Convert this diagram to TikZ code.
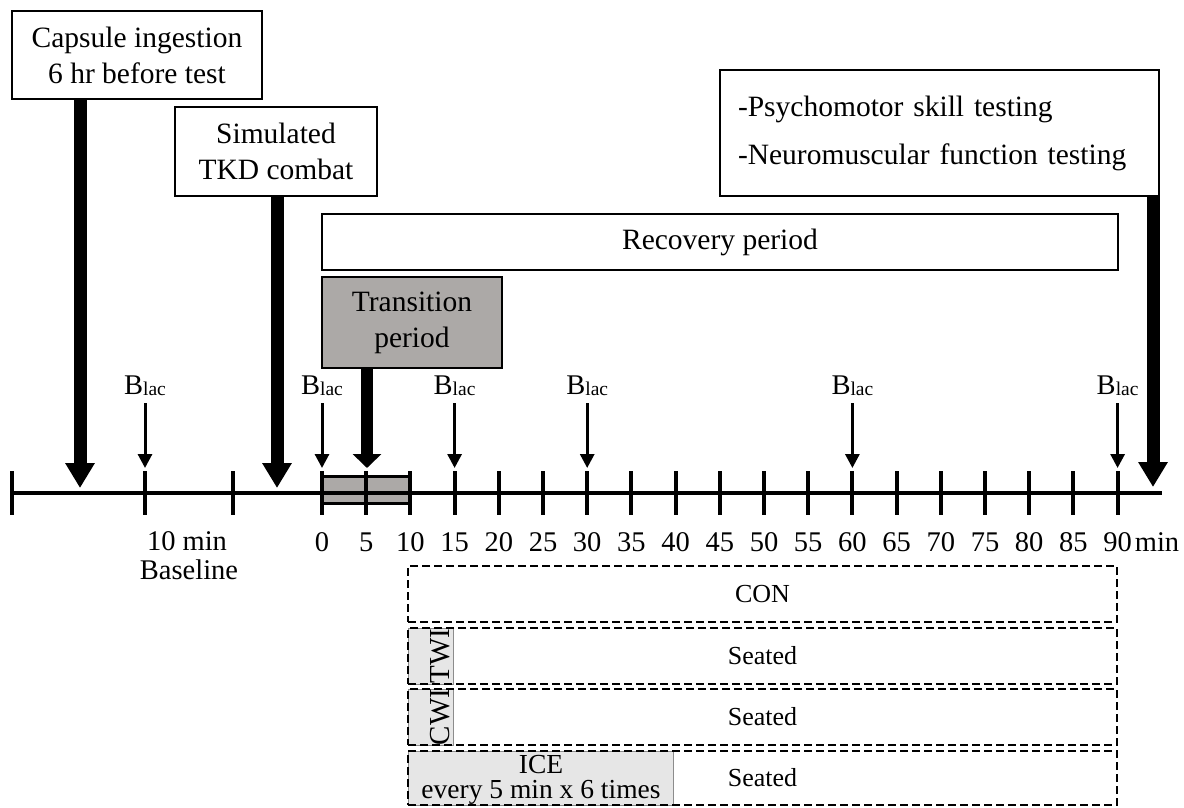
\documentclass[tikz,border=0pt]{standalone}
\usepackage{fontspec}
\setmainfont{Liberation Serif}
\usetikzlibrary{arrows.meta}
\definecolor{tgray}{RGB}{172,169,167}
\definecolor{lgray}{RGB}{230,230,230}
\newcommand{\fsz}[2]{\fontsize{#1}{#2}\selectfont}
\newcommand{\blac}{B{\fontsize{19.5}{19.5}\selectfont\raisebox{-1pt}{lac}}}
\begin{document}
\begin{tikzpicture}[x=1pt,y=-1pt,
 box/.style={draw, line width=2pt, inner sep=0pt, align=center, font=\fsz{29.5}{36}},
 dbox/.style={draw, line width=2.5pt, dash pattern=on 8pt off 4pt, inner sep=0pt, minimum width=709pt, minimum height=56pt, font=\fsz{26}{30}},
 strip/.style={draw=black!45, line width=1pt, fill=lgray, inner sep=0pt, anchor=north west},
 bigarrow/.style={line width=13pt, -{Triangle[length=25pt,width=28pt]}},
 flatarrow/.style={line width=12pt, -{Triangle[length=14pt,width=28pt]}},
 smallarrow/.style={line width=3pt, -{Triangle[length=14pt,width=14pt]}},
 lbl/.style={inner sep=0pt, anchor=base, font=\fsz{28.5}{34}},
 blacstyle/.style={inner sep=0pt, anchor=base, font=\fsz{28.5}{30}},
 tickline/.style={line width=4pt}
]
\useasboundingbox (0,0) rectangle (1184,807);

% top boxes
\node[box, minimum width=250pt, minimum height=88pt] (cap) at (137,55) {Capsule ingestion\\6 hr before test};
\node[box, minimum width=202pt, minimum height=89pt] (sim) at (276,151.5) {Simulated\\TKD combat};
\node[box, minimum width=796pt, minimum height=56pt] (rec) at (720,242) {Recovery period};
\node[box, fill=tgray, minimum width=180pt, minimum height=91pt] (tra) at (412,322.5) {Transition\\period};
\node[box, minimum width=439pt, minimum height=126pt, text width=403pt, align=left, font=\fsz{29.5}{48}] (psy) at (939.5,133) {-Psychomotor skill testing\\-Neuromuscular function testing};

% timeline
\node[draw, line width=3pt, fill=tgray, minimum width=88.4pt, minimum height=27pt, inner sep=0pt] (tbox) at (366.2,489.5) {};
\coordinate (L) at (12,493);
\coordinate (R) at (1162,493);
\draw[line width=4pt] (L) -- (R);
\foreach \x in {12,145,233} \draw[tickline] (\x,471) -- (\x,515);
\foreach \k in {0,...,18} {
  \coordinate (t\k) at ({322+44.2*\k},493);
  \draw[tickline] ({322+44.2*\k},471) -- ({322+44.2*\k},515);
  \pgfmathtruncatemacro{\v}{5*\k}
  \node[lbl] (n\k) at ({322+44.2*\k},551) {\v};
}
\coordinate (tb) at (145,493);
\node[lbl] (tenmin) at (187,550) {10 min};
\node[lbl] (base) at (189,579) {Baseline};
\node[lbl] (minl) at (1157,551) {min};

% B_lac labels and arrows
\node[blacstyle] (b1) at (145,394) {\blac};
\node[blacstyle] (b2) at (t0 |- 0,394) {\blac};
\node[blacstyle] (b3) at (t3 |- 0,394) {\blac};
\node[blacstyle] (b4) at (t6 |- 0,394) {\blac};
\node[blacstyle] (b5) at (t12 |- 0,394) {\blac};
\node[blacstyle] (b6) at (t18 |- 0,394) {\blac};
\draw[smallarrow] ([yshift=-8pt]b1.south -| tb) -- ([yshift=25pt]tb);
\draw[smallarrow] ([yshift=-8pt]b2.south -| t0) -- ([yshift=25pt]t0);
\draw[smallarrow] ([yshift=-8pt]b3.south -| t3) -- ([yshift=25pt]t3);
\draw[smallarrow] ([yshift=-8pt]b4.south -| t6) -- ([yshift=25pt]t6);
\draw[smallarrow] ([yshift=-8pt]b5.south -| t12) -- ([yshift=25pt]t12);
\draw[smallarrow] ([yshift=-8pt]b6.south -| t18) -- ([yshift=25pt]t18);

% big arrows
\coordinate (capE) at (80,488);
\coordinate (simE) at (277,488);
\coordinate (traE) at (367,468);
\coordinate (psyE) at (1153,487);
\draw[bigarrow] (cap.south -| capE) -- (capE);
\draw[bigarrow] (sim.south -| simE) -- (simE);
\draw[flatarrow] (tra.south -| traE) -- (traE);
\draw[bigarrow] (psy.south -| psyE) -- (psyE);

% bottom conditions
\node[strip, minimum width=45pt, minimum height=56pt] (twis) at (408,628) {};
\node[strip, minimum width=45pt, minimum height=56pt] (cwis) at (408,689) {};
\node[strip, minimum width=265pt, minimum height=54pt] (ices) at (408,751) {};
\node[rotate=90, inner sep=0pt, font=\fsz{29}{29}] (twit) at (440,656) {TWI};
\node[rotate=90, inner sep=0pt, font=\fsz{29}{29}] (cwit) at (440,717) {CWI};
\node[inner sep=0pt, align=center, font=\fsz{27.5}{25}] (icet) at (541,780) {ICE\\every 5 min x 6 times};
\node[dbox] (con) at (762.5,594) {CON};
\node[dbox] (twi) at (762.5,656) {Seated};
\node[dbox] (cwi) at (762.5,717) {Seated};
\node[dbox, minimum height=54pt] (ice) at (762.5,778) {Seated};
\end{tikzpicture}
\end{document}
